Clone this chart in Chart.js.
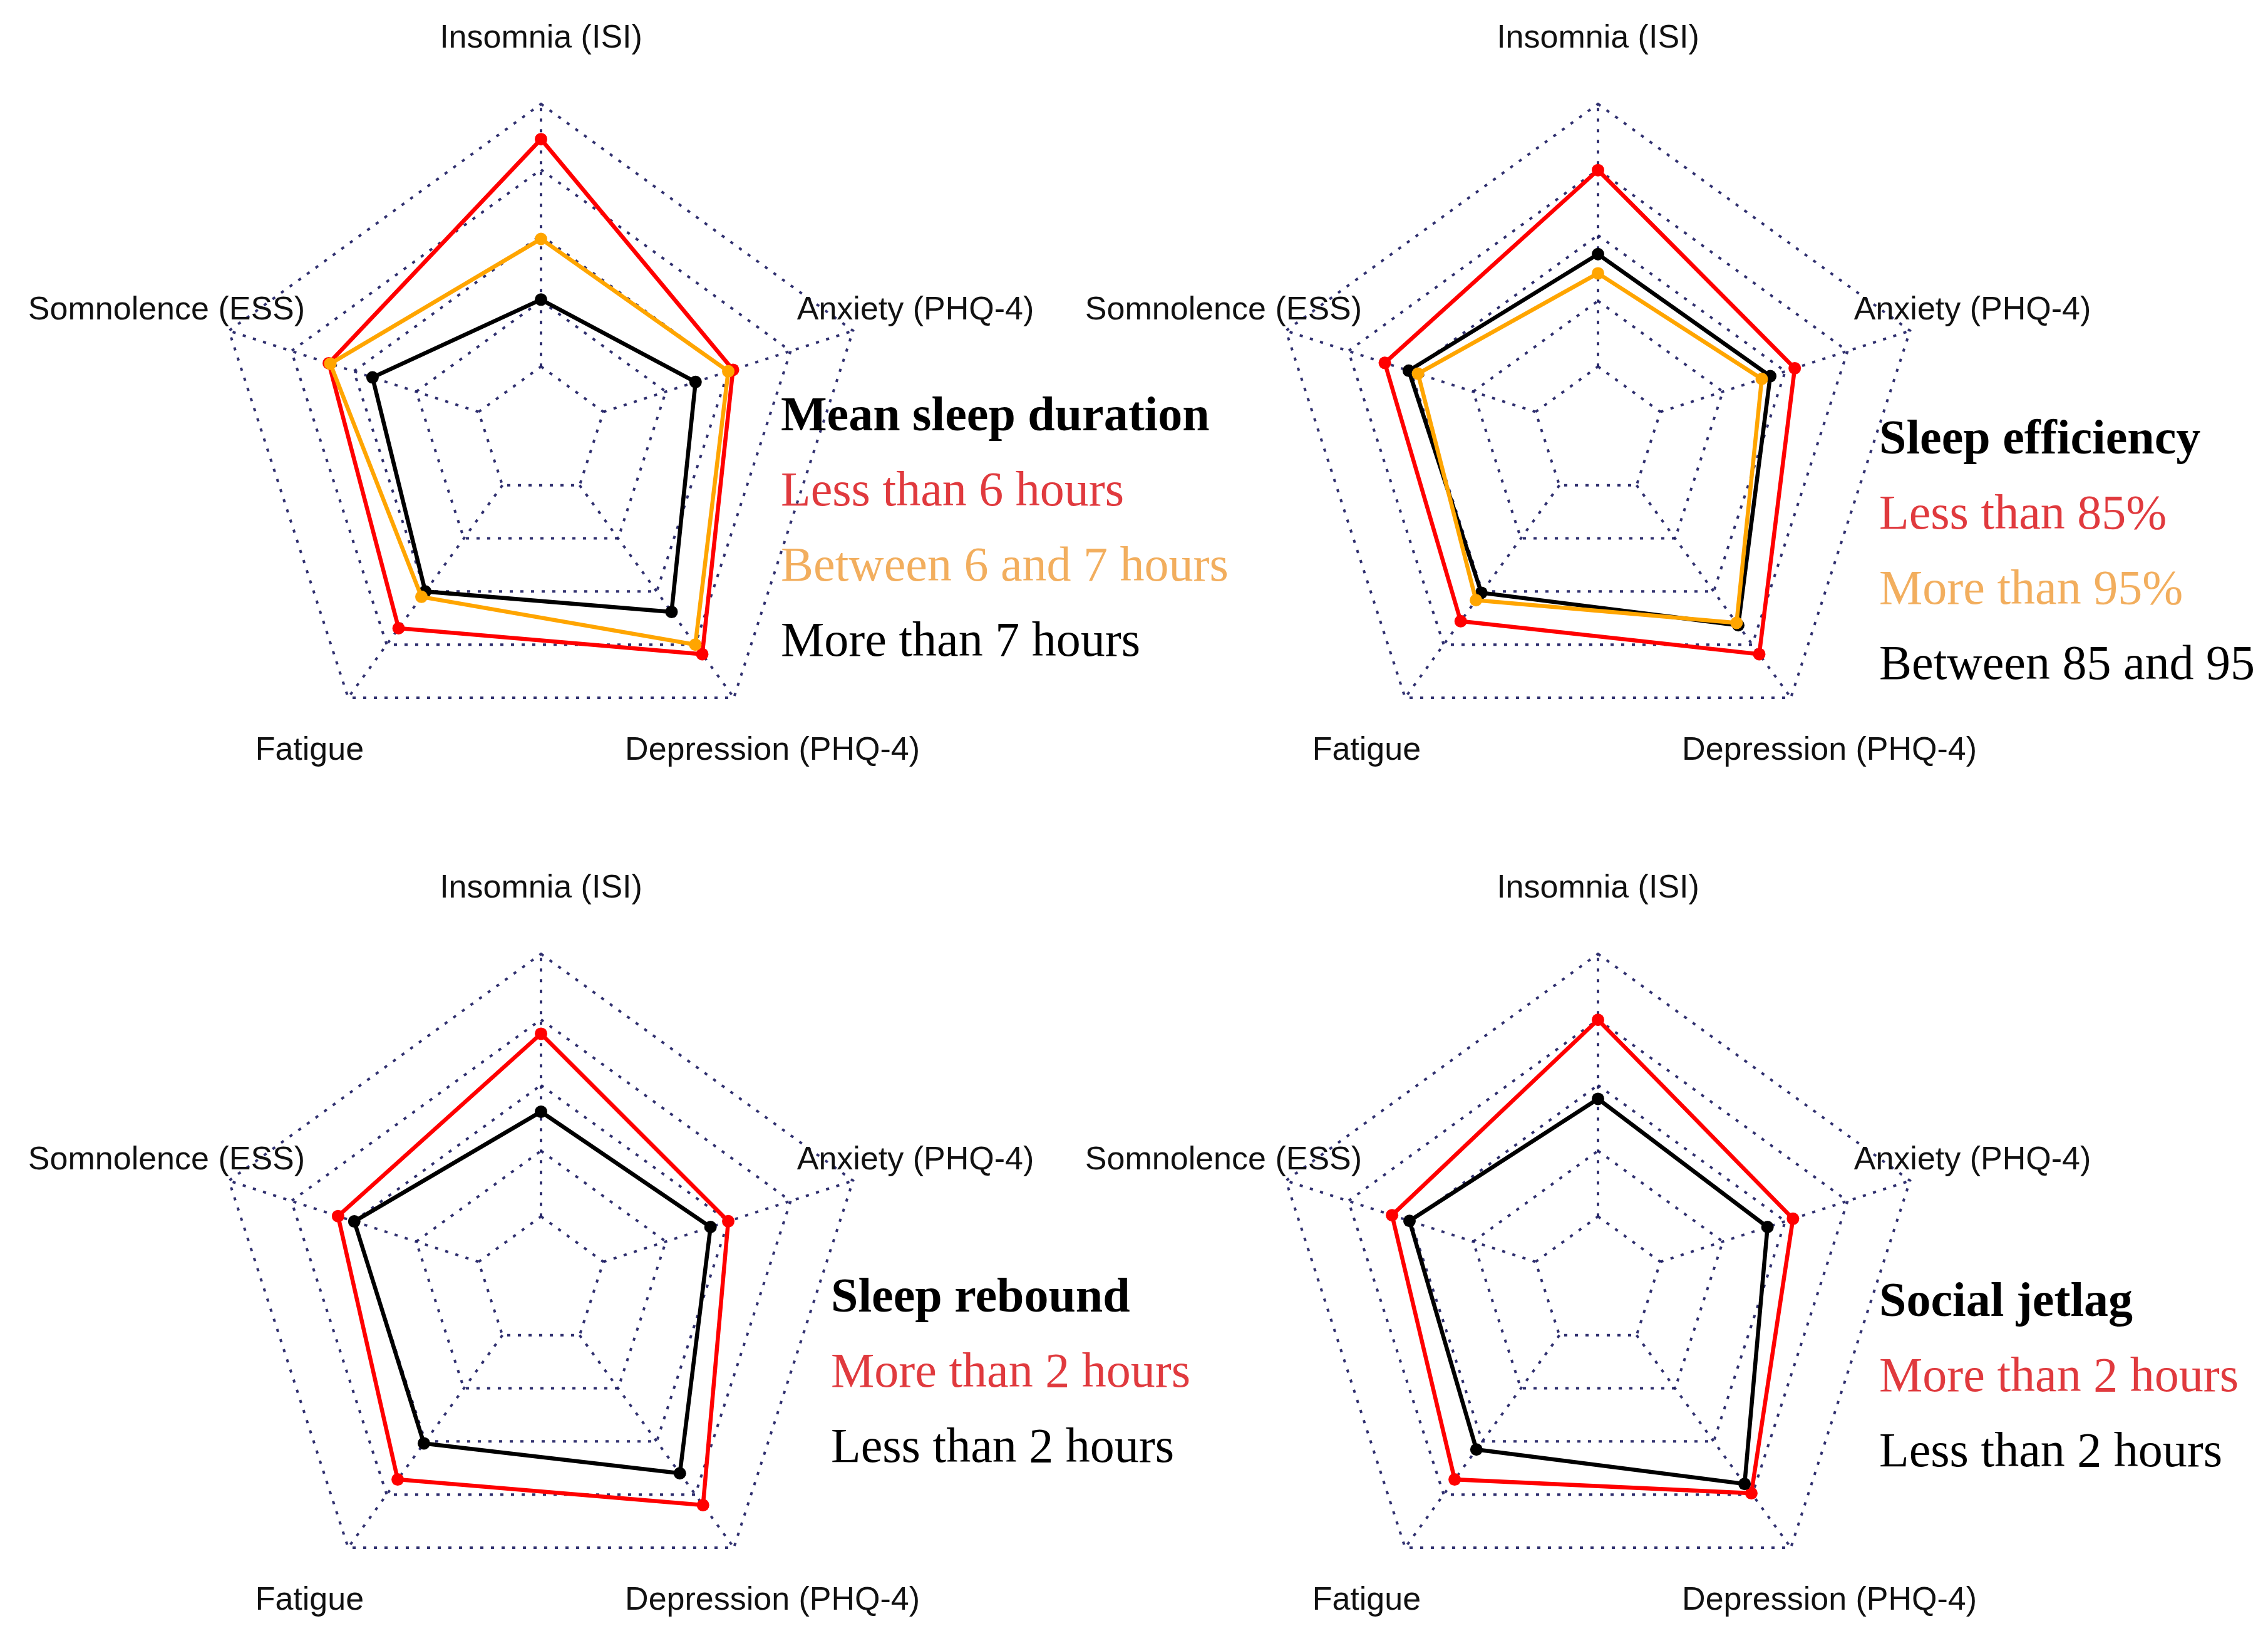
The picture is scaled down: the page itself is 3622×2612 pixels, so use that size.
<!DOCTYPE html>
<html>
<head>
<meta charset="utf-8">
<script src="https://cdn.jsdelivr.net/npm/chart.js@4.4.1/dist/chart.umd.min.js"></script>
<style>
  html, body { margin: 0; padding: 0; background: #ffffff; overflow: hidden; }
  #page { position: relative; width: 3622px; height: 2612px; overflow: hidden; background: #ffffff; }
  canvas.radar { position: absolute; }
  .legend { position: absolute; font-family: "Liberation Serif", "Times New Roman", serif; font-size: 78px; line-height: 120px; white-space: nowrap; }
  .legend .title { font-weight: bold; color: #000000; }
</style>
</head>
<body>
<div id="page"></div>
<script>
// ---- categories (axes), clockwise from the top ----
const categories = ['Insomnia (ISI)', 'Anxiety (PHQ-4)', 'Depression (PHQ-4)', 'Fatigue', 'Somnolence (ESS)'];

// ---- relative scores (0 = inner ring, 1 = outer ring) ----
// Mean sleep duration
const durationLess6      = [0.866, 0.519, 0.795, 0.673, 0.600];
const durationBetween6_7 = [0.486, 0.500, 0.750, 0.525, 0.594];
const durationMore7      = [0.255, 0.369, 0.596, 0.500, 0.425];
// Sleep efficiency
const efficiencyLess85       = [0.748, 0.538, 0.795, 0.640, 0.604];
const efficiencyMore95       = [0.355, 0.406, 0.648, 0.541, 0.471];
const efficiencyBetween85_95 = [0.428, 0.440, 0.659, 0.506, 0.508];
// Sleep rebound
const reboundMore2 = [0.696, 0.500, 0.800, 0.679, 0.563];
const reboundLess2 = [0.399, 0.429, 0.650, 0.509, 0.498];
// Social jetlag
const jetlagMore2 = [0.749, 0.531, 0.744, 0.679, 0.575];
const jetlagLess2 = [0.448, 0.429, 0.700, 0.538, 0.505];

// ---- legend texts ----
const titles = ['Mean sleep duration', 'Sleep efficiency', 'Sleep rebound', 'Social jetlag'];
const durationNames   = ['Less than 6 hours', 'Between 6 and 7 hours', 'More than 7 hours'];
const efficiencyNames = ['Less than 85%', 'More than 95%', 'Between 85 and 95'];
const reboundNames    = ['More than 2 hours', 'Less than 2 hours'];
const jetlagNames     = ['More than 2 hours', 'Less than 2 hours'];

// ---- grid values (score units) ----
const ringValues = [0, 0.25, 0.5, 0.75, 1];
const SCALE_MIN = -0.25;      // centre of the plot
const LABEL_VALUE = 1.25;     // where axis names sit

// ---- styles ----
const RED = '#ff0000', ORANGE = '#ffa500', BLACK = '#000000';
const RED_TEXT = '#e03a3e', ORANGE_TEXT = '#f2ae5e', BLACK_TEXT = '#000000';
const GRID_COLOR = 'rgba(25,25,95,0.9)';
const RADIUS_PX = 524;           // radius of the outer ring
const CANVAS_W = 1700, CANVAS_H = 1340;

const panels = [
  { cx: 864,  cy: 690,  legendLeft: 1247, legendTop: 601,  title: titles[0],
    series: [ {name: durationNames[0], data: durationLess6, color: RED, text: RED_TEXT, order: 3},
              {name: durationNames[1], data: durationBetween6_7, color: ORANGE, text: ORANGE_TEXT, order: 1},
              {name: durationNames[2], data: durationMore7, color: BLACK, text: BLACK_TEXT, order: 2} ] },
  { cx: 2552, cy: 690,  legendLeft: 3001, legendTop: 638,  title: titles[1],
    series: [ {name: efficiencyNames[0], data: efficiencyLess85, color: RED, text: RED_TEXT, order: 3},
              {name: efficiencyNames[1], data: efficiencyMore95, color: ORANGE, text: ORANGE_TEXT, order: 1},
              {name: efficiencyNames[2], data: efficiencyBetween85_95, color: BLACK, text: BLACK_TEXT, order: 2} ] },
  { cx: 864,  cy: 2047, legendLeft: 1327, legendTop: 2008, title: titles[2],
    series: [ {name: reboundNames[0], data: reboundMore2, color: RED, text: RED_TEXT, order: 3},
              {name: reboundNames[1], data: reboundLess2, color: BLACK, text: BLACK_TEXT, order: 2} ] },
  { cx: 2552, cy: 2047, legendLeft: 3001, legendTop: 2015, title: titles[3],
    series: [ {name: jetlagNames[0], data: jetlagMore2, color: RED, text: RED_TEXT, order: 3},
              {name: jetlagNames[1], data: jetlagLess2, color: BLACK, text: BLACK_TEXT, order: 2} ] }
];

// Grid (dotted rings + spokes) and axis names, drawn through the radial scale
const radarFrame = {
  id: 'radarFrame',
  beforeDatasetsDraw(chart) {
    const s = chart.scales.r;
    const n = chart.data.labels.length;
    const ctx = chart.ctx;
    ctx.save();
    ctx.strokeStyle = GRID_COLOR;
    ctx.lineWidth = 4;
    ctx.setLineDash([5, 12]);
    ctx.lineCap = 'butt';
    ringValues.forEach(v => {
      const d = s.getDistanceFromCenterForValue(v);
      ctx.beginPath();
      for (let i = 0; i < n; i++) {
        const p = s.getPointPosition(i, d);
        if (i === 0) ctx.moveTo(p.x, p.y); else ctx.lineTo(p.x, p.y);
      }
      ctx.closePath();
      ctx.stroke();
    });
    const d0 = s.getDistanceFromCenterForValue(ringValues[0]);
    const d1 = s.getDistanceFromCenterForValue(ringValues[ringValues.length - 1]);
    for (let i = 0; i < n; i++) {
      const a = s.getPointPosition(i, d0);
      const b = s.getPointPosition(i, d1);
      ctx.beginPath();
      ctx.moveTo(a.x, a.y);
      ctx.lineTo(b.x, b.y);
      ctx.stroke();
    }
    ctx.restore();
  },
  afterDraw(chart) {
    const s = chart.scales.r;
    const ctx = chart.ctx;
    ctx.save();
    ctx.fillStyle = '#111111';
    ctx.font = '52px "Liberation Sans", Arial, sans-serif';
    ctx.textAlign = 'center';
    ctx.textBaseline = 'middle';
    const d = s.getDistanceFromCenterForValue(LABEL_VALUE);
    chart.data.labels.forEach((lab, i) => {
      const p = s.getPointPosition(i, d);
      ctx.fillText(lab, p.x, p.y);
    });
    ctx.restore();
  }
};

const page = document.getElementById('page');
const scaleMax = SCALE_MIN + (1 - SCALE_MIN) * (Math.min(CANVAS_W, CANVAS_H) / 2) / RADIUS_PX;

panels.forEach(panel => {
  const canvas = document.createElement('canvas');
  canvas.className = 'radar';
  canvas.width = CANVAS_W;
  canvas.height = CANVAS_H;
  canvas.style.width = CANVAS_W + 'px';
  canvas.style.height = CANVAS_H + 'px';
  canvas.style.left = (panel.cx - CANVAS_W / 2) + 'px';
  canvas.style.top = (panel.cy - CANVAS_H / 2) + 'px';
  page.appendChild(canvas);

  new Chart(canvas, {
    type: 'radar',
    data: {
      labels: categories,
      datasets: panel.series.map(sr => ({
        label: sr.name,
        data: sr.data,
        order: sr.order,
        borderColor: sr.color,
        backgroundColor: sr.color,
        pointBackgroundColor: sr.color,
        pointBorderColor: sr.color,
        borderWidth: 6.5,
        pointRadius: 10,
        pointBorderWidth: 0,
        fill: false,
        tension: 0
      }))
    },
    options: {
      responsive: false,
      animation: false,
      events: [],
      layout: { padding: 0 },
      plugins: { legend: { display: false }, tooltip: { enabled: false } },
      scales: {
        r: {
          min: SCALE_MIN,
          max: scaleMax,
          grid: { display: false },
          angleLines: { display: false },
          ticks: { display: false, stepSize: 0.25 },
          pointLabels: { display: false }
        }
      }
    },
    plugins: [radarFrame]
  });

  const lg = document.createElement('div');
  lg.className = 'legend';
  lg.style.left = panel.legendLeft + 'px';
  lg.style.top = panel.legendTop + 'px';
  const t = document.createElement('div');
  t.className = 'title';
  t.textContent = panel.title;
  lg.appendChild(t);
  panel.series.forEach(sr => {
    const e = document.createElement('div');
    e.style.color = sr.text;
    e.textContent = sr.name;
    lg.appendChild(e);
  });
  page.appendChild(lg);
});
</script>
</body>
</html>
